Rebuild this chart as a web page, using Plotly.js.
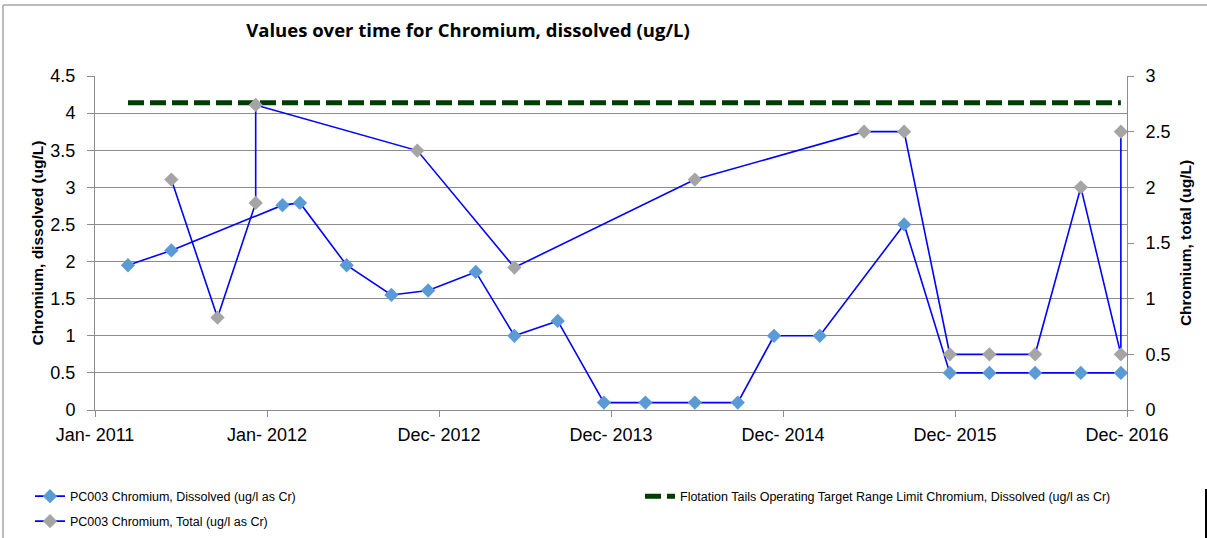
<!DOCTYPE html>
<html>
<head>
<meta charset="utf-8">
<script src="https://cdn.plot.ly/plotly-3.0.1.min.js"></script>
<style>
  html, body { margin: 0; padding: 0; background: #fff; }
  #chart { width: 1207px; height: 538px; }
</style>
</head>
<body>
<div id="chart"></div>
<script>
// ---- data ----
const dissolvedDates = ['2011-03-12','2011-06-12','2012-02-03','2012-03-11','2012-06-18','2012-09-21',
  '2012-12-08','2013-03-19','2013-06-09','2013-09-09','2013-12-16','2014-03-14','2014-06-27',
  '2014-09-26','2014-12-12','2015-03-19','2015-09-14','2015-12-20','2016-03-13','2016-06-18',
  '2016-09-23','2016-12-17'];
const dissolvedValues = [1.95,2.15,2.76,2.79,1.95,1.55,1.61,1.86,1.0,1.2,0.1,0.1,0.1,0.1,1.0,1.0,
  2.5,0.5,0.5,0.5,0.5,0.5];

const totalDates = ['2011-06-12','2011-09-18','2011-12-08','2011-12-08','2012-11-15','2013-06-09',
  '2014-06-27','2015-06-21','2015-09-14','2015-12-20','2016-03-13','2016-06-18','2016-09-23',
  '2016-12-17','2016-12-17'];
const totalValues = [2.07,0.83,1.86,2.74,2.33,1.28,2.07,2.5,2.5,0.5,0.5,0.5,2.0,0.5,2.5];

const limitDates = ['2011-03-12','2016-12-17'];
const limitValues = [4.14,4.14];

const xTickDates = ['2011-01-01','2012-01-01','2012-12-31','2013-12-31','2014-12-31','2015-12-31','2016-12-30'];
const xTickLabels = ['Jan- 2011','Jan- 2012','Dec- 2012','Dec- 2013','Dec- 2014','Dec- 2015','Dec- 2016'];

const seriesNames = [
  'PC003 Chromium, Dissolved (ug/l as Cr)',
  'Flotation Tails Operating Target Range Limit Chromium, Dissolved (ug/l as Cr)',
  'PC003 Chromium, Total (ug/l as Cr)'
];

// ---- plot geometry helpers (pixel -> paper) ----
const PL = 95, PR = 1127, PT = 76, PB = 410;
const px = x => (x - PL) / (PR - PL);
const py = y => (PB - y) / (PB - PT);

const FONT = 'Liberation Sans, Arial, sans-serif';
const GRID = '#8c8c8c';

const traces = [
  {
    x: dissolvedDates, y: dissolvedValues, name: seriesNames[0], type: 'scatter', mode: 'lines+markers',
    line: {color: '#0000ff', width: 1.6},
    marker: {symbol: 'diamond', size: 11, color: '#5b9bd5'},
    yaxis: 'y', legend: 'legend'
  },
  {
    x: limitDates, y: limitValues, name: seriesNames[1], type: 'scatter', mode: 'lines',
    line: {color: '#003d00', width: 5, dash: '16px,6px'},
    yaxis: 'y', legend: 'legend2'
  },
  {
    x: totalDates, y: totalValues, name: seriesNames[2], type: 'scatter', mode: 'lines+markers',
    line: {color: '#0000ff', width: 1.6},
    marker: {symbol: 'diamond', size: 11, color: '#a5a5a5'},
    yaxis: 'y2', legend: 'legend3'
  }
];

function legendAt(xPix, yTopPix) {
  return {
    orientation: 'h', x: px(xPix), xanchor: 'left', y: py(yTopPix), yanchor: 'top',
    font: {family: FONT, size: 12.5, color: '#000'},
    bgcolor: 'rgba(0,0,0,0)', borderwidth: 0
  };
}

const layout = {
  width: 1207, height: 538,
  margin: {l: PL, r: 1207 - PR, t: PT, b: 538 - PB, pad: 0, autoexpand: false},
  paper_bgcolor: '#ffffff', plot_bgcolor: '#ffffff',
  font: {family: FONT, color: '#000'},
  title: {
    text: '<b>Values over time for Chromium, dissolved (ug/L)</b>',
    font: {family: 'Open Sans, Liberation Sans, sans-serif', size: 18.5, color: '#000'},
    x: px(468), xanchor: 'center', xref: 'paper',
    y: 1 - 31 / 538, yanchor: 'middle', yref: 'container'
  },
  xaxis: {
    type: 'date',
    range: [xTickDates[0], xTickDates[xTickDates.length - 1]],
    tickmode: 'array', tickvals: xTickDates, ticktext: xTickLabels,
    showgrid: false, zeroline: false,
    showline: true, linecolor: GRID, linewidth: 1,
    ticks: 'outside', ticklen: 6, tickcolor: GRID, tickwidth: 1,
    tickfont: {family: FONT, size: 18, color: '#000'},
    ticklabelstandoff: 2
  },
  yaxis: {
    range: [0, 4.5], dtick: 0.5, tick0: 0,
    showgrid: true, gridcolor: GRID, gridwidth: 1, zeroline: false,
    showline: true, linecolor: GRID, linewidth: 1,
    ticks: 'outside', ticklen: 7, tickcolor: GRID,
    tickfont: {family: FONT, size: 18, color: '#000'},
    ticklabelstandoff: 8,
    title: {text: '<b>Chromium, dissolved (ug/L)</b>', font: {family: FONT, size: 15.5, color: '#000'}, standoff: 2}
  },
  yaxis2: {
    range: [0, 3], dtick: 0.5, tick0: 0,
    overlaying: 'y', side: 'right',
    showgrid: false, zeroline: false,
    showline: true, linecolor: GRID, linewidth: 1,
    ticks: 'outside', ticklen: 6, tickcolor: GRID,
    tickfont: {family: FONT, size: 18, color: '#000'},
    ticklabelstandoff: 8,
    title: {text: '<b>Chromium, total (ug/L)</b>', font: {family: FONT, size: 15.5, color: '#000'}, standoff: 10}
  },
  showlegend: true,
  legend: legendAt(30, 481.5),
  legend2: legendAt(640, 481.5),
  legend3: legendAt(30, 506.5),
  shapes: [
    {type: 'line', xref: 'paper', yref: 'paper', x0: px(3), x1: px(1207), y0: py(5), y1: py(5),
     line: {color: '#a6a6a6', width: 1.5}},
    {type: 'line', xref: 'paper', yref: 'paper', x0: px(3), x1: px(3), y0: py(5), y1: py(540),
     line: {color: '#a6a6a6', width: 1.5}},
    {type: 'line', xref: 'paper', yref: 'paper', x0: px(1206), x1: px(1206), y0: py(489), y1: py(540),
     line: {color: '#000000', width: 2}}
  ]
};

Plotly.newPlot('chart', traces, layout, {displayModeBar: false, staticPlot: true});
</script>
</body>
</html>
